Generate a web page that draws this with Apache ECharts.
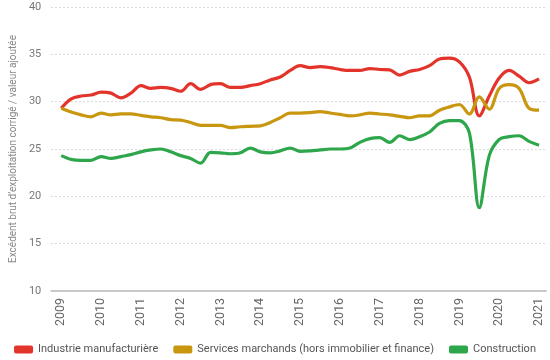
<!DOCTYPE html>
<html>
<head>
<meta charset="utf-8">
<script src="https://cdn.jsdelivr.net/npm/echarts@6/dist/echarts.min.js"></script>
<style>html,body{margin:0;padding:0;background:#fff}#c{width:550px;height:360px}</style>
</head>
<body>
<div id="c"></div>
<script>
// Quarterly points; label year Y sits at the 4th quarter of Y
var quarters = [];
for (var y = 2009; y <= 2021; y++) { for (var q = 1; q <= 4; q++) { if (y === 2009 && q < 4) continue; quarters.push(y + 'T' + q); } }
var yearLabels = ['2009','2010','2011','2012','2013','2014','2015','2016','2017','2018','2019','2020','2021'];

var industrie = [29.3,30.3,30.6,30.7,31.0,30.9,30.4,30.9,31.7,31.4,31.5,31.4,31.1,31.9,31.3,31.8,31.9,31.5,31.5,31.7,31.9,32.3,32.6,33.3,33.8,33.6,33.7,33.6,33.4,33.3,33.3,33.5,33.4,33.35,32.8,33.2,33.4,33.8,34.5,34.6,34.2,32.6,28.5,30.6,32.5,33.3,32.7,32.0,32.4];
var services = [29.3,28.9,28.6,28.4,28.8,28.6,28.7,28.7,28.55,28.4,28.3,28.1,28.05,27.8,27.5,27.5,27.5,27.25,27.35,27.4,27.45,27.8,28.3,28.8,28.8,28.85,28.95,28.8,28.65,28.5,28.6,28.8,28.7,28.6,28.45,28.3,28.5,28.5,29.1,29.45,29.7,28.7,30.5,29.2,31.4,31.8,31.4,29.3,29.1];
var construction = [24.3,23.9,23.8,23.8,24.2,24.0,24.2,24.4,24.7,24.9,25.0,24.7,24.3,24.0,23.5,24.65,24.6,24.5,24.6,25.1,24.7,24.6,24.8,25.1,24.75,24.8,24.9,25.0,25.0,25.1,25.7,26.1,26.2,25.7,26.4,26.0,26.3,26.8,27.7,28.0,28.0,26.7,18.8,24.3,26.0,26.3,26.4,25.8,25.4];

function pts(arr){ return arr.map(function(v,i){ return [i, v]; }); }
var labelPos = yearLabels.map(function(_, k){ return k*4; });

var chart = echarts.init(document.getElementById('c'), null, {renderer:'canvas'});
var font = 'Roboto, "Noto Sans", sans-serif';
function line(name, data, color){
  return {name:name, type:'line', data:pts(data), smooth:0.35, showSymbol:false, symbol:'none',
    lineStyle:{color:color, width:3.2}, itemStyle:{color:color}};
}
chart.setOption({
  animation:false,
  grid:{left:40, right:4, top:7, bottom:69, containLabel:false},
  xAxis:{type:'value', min:-1, max:48.7,
    axisLine:{show:true, lineStyle:{color:'#c9c9c9', width:2}},
    axisTick:{show:false}, splitLine:{show:false},
    axisLabel:{customValues:labelPos, rotate:90, margin:7, color:'#666', fontSize:12.5, fontFamily:font,
      formatter:function(v){ return yearLabels[Math.round(v/4)]; }}
  },
  yAxis:{type:'value', min:10, max:40, interval:5,
    name:'Excédent brut d\u2019exploitation corrigé / valeur ajoutée', nameLocation:'middle', nameRotate:90, nameGap:28,
    nameTextStyle:{color:'#888', fontSize:10, fontFamily:font},
    axisLine:{show:false}, axisTick:{show:false},
    axisLabel:{color:'#777', fontSize:11, fontFamily:font, margin:10},
    splitLine:{lineStyle:{color:'#cfcfcf', type:[1.5,2.5], width:1}}
  },
  legend:{bottom:0, left:'center', icon:'roundRect', itemWidth:19, itemHeight:8, itemGap:15,
    textStyle:{color:'#555', fontSize:11, fontFamily:font},
    data:['Industrie manufacturière','Services marchands (hors immobilier et finance)','Construction']},
  series:[
    line('Industrie manufacturière', industrie, '#e3342b'),
    line('Services marchands (hors immobilier et finance)', services, '#c8960f'),
    line('Construction', construction, '#2ea64b')
  ]
});
</script>
</body>
</html>
